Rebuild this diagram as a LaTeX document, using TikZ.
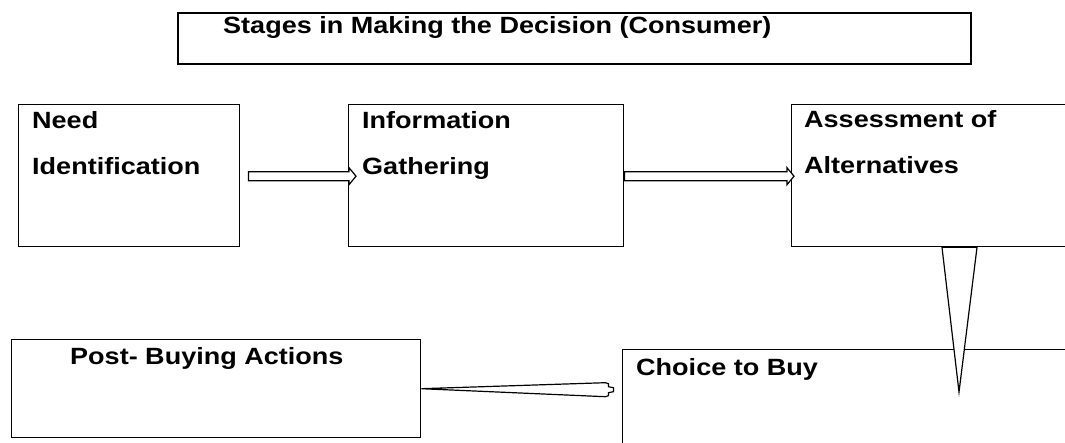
\documentclass[tikz,border=0pt]{standalone}
\usepackage{fontspec}
\newfontfamily\lab{Liberation Sans}[FakeStretch=1.15]
\usetikzlibrary{calc}
\newcommand\harrow[2]{\path[conn] let \p1=(#1), \p2=(#2) in
  (\x1,\y1+4.5pt) -- (\x2-7pt,\y1+4.5pt) -- (\x2-7pt,\y1+8.5pt) -- (\x2,\y1)
  -- (\x2-7pt,\y1-8.5pt) -- (\x2-7pt,\y1-4.5pt) -- (\x1,\y1-4.5pt) -- cycle;}
\begin{document}
\begin{tikzpicture}[x=1pt,y=-1pt,
  box/.style={draw, line width=1.4pt, fill=white, inner sep=0pt, anchor=north west},
  lbl/.style={font=\lab\bfseries\fontsize{23.5}{46}\selectfont, inner sep=0pt, anchor=base west, align=left},
  conn/.style={draw, line width=1.2pt, fill=white, line join=miter}]
\useasboundingbox (0,0) rectangle (1065,443);
\fill[white] (0,0) rectangle (1065,443);
\clip (0,0) rectangle (1065,443);

% boxes
\node[box, line width=2pt, minimum width=793pt, minimum height=51pt] (title) at (177,12) {};
\node[box, minimum width=221pt, minimum height=142pt] (b1) at (18,104) {};
\node[box, minimum width=275pt, minimum height=142pt] (b2) at (348,104) {};
\node[box, minimum width=290pt, minimum height=142pt] (b3) at (791,104) {};
\node[box, minimum width=409pt, minimum height=98pt] (b4) at (11,339) {};
\node[box, minimum width=460pt, minimum height=110pt] (b5) at (622,349) {};

% labels (base anchor of a two-line node is the baseline of its last line)
\node[lbl] (tt) at ($(title.north west)+(46,22)$) {Stages in Making the Decision (Consumer)};
\node[lbl] (t1) at ($(b1.north west)+(14,71)$) {Need\\Identification};
\node[lbl] (t2) at ($(b2.north west)+(14,71)$) {Information\\Gathering};
\node[lbl] (t3) at ($(b3.north west)+(13,70)$) {Assessment of\\Alternatives};
\node[lbl] (t4) at ($(b4.north west)+(59,25)$) {Post- Buying Actions};
\node[lbl] (t5) at ($(b5.north west)+(14,26)$) {Choice to Buy};

% connectors
\coordinate (a1s) at ($(b1.east)+(8,0.5)$);
\coordinate (a1e) at ($(b2.west)+(8,0.5)$);
\harrow{a1s}{a1e}
\coordinate (a2s) at ($(b2.east)+(0,0.5)$);
\coordinate (a2e) at ($(b3.west)+(3,0.5)$);
\harrow{a2s}{a2e}

\path[conn] ($(b3.south west)+(151,0)$) -- ($(b3.south west)+(186,0)$)
  -- ($(b5.north west)+(337,43)$) -- cycle;

\path[conn] (b4.east) -- ++(184,-6) -- ++(3,1) -- ++(0,3) -- ++(5,1) -- ++(0,4)
  -- ++(-5,1) -- ++(0,3) -- ++(-3,1) -- cycle;
\end{tikzpicture}
\end{document}
